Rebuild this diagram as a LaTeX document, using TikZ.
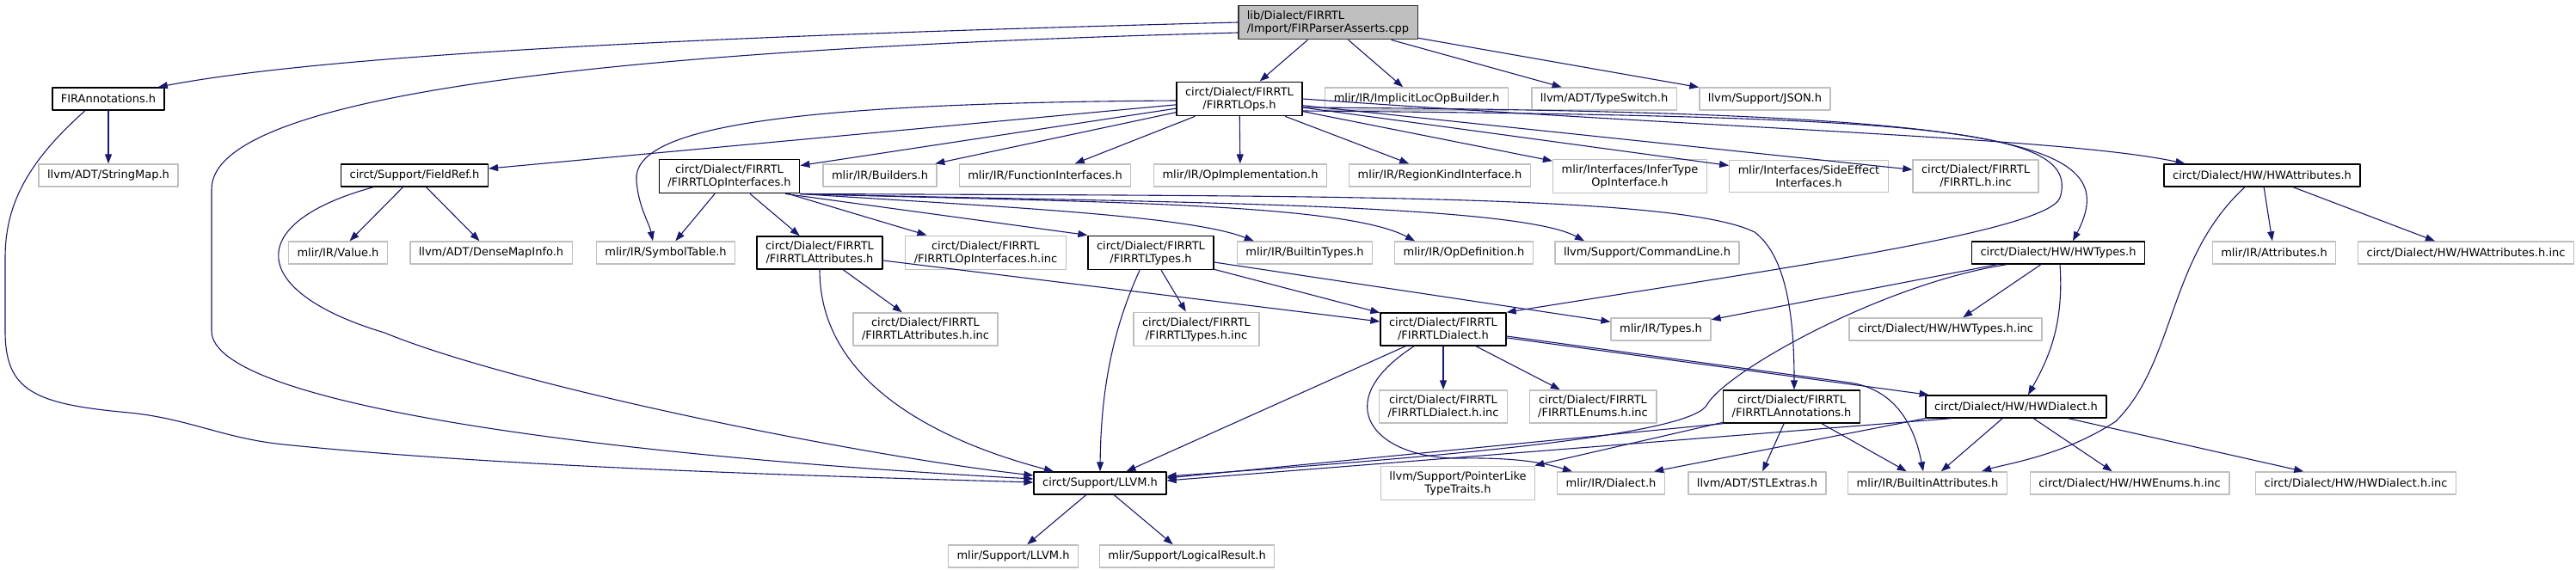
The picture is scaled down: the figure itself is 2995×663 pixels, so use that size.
\documentclass[tikz,border=0pt]{standalone}
\usepackage{fontspec}
\setmainfont{DejaVu Sans}
\usepackage{xcolor}
\usepackage{tikz}
\usetikzlibrary{
  arrows.meta,
  calc
}
\definecolor{IncBlue}{HTML}{191970}
\definecolor{IncGray}{HTML}{BFBFBF}
\definecolor{IncBlack}{HTML}{000000}
\tikzset{
  every picture/.style = {line join=round, line cap=round},
  every node/.style = {font=\fontsize{13}{15}\selectfont, text=IncBlack},
  hdr file/.style = {
    draw=IncBlack,
    fill=white,
    line width=1.4pt,
    inner xsep=10pt,
    inner ysep=6pt,
    minimum height=26pt,
    align=center
  },
  hdr leaf/.style = {hdr file, draw=IncGray},
  hdr root/.style = {hdr file, fill=IncGray, draw=black!80, align=left},
  incl/.style = {-{Triangle[length=11pt,width=8pt]}, draw=IncBlue, line width=1.1pt},
}

\begin{document}
\begin{tikzpicture}[x=1pt,y=-1pt]
  \useasboundingbox (0,0) rectangle (2995,663);

  \node[hdr root] (root) at (1544,26) {lib/Dialect/FIRRTL\\/Import/FIRParserAsserts.cpp};

  \node[hdr file] (firann) at (126,115) {FIRAnnotations.h};
  \node[hdr file] (ops) at (1441,115) {circt/Dialect/FIRRTL\\/FIRRTLOps.h};
  \node[hdr leaf] (implicit) at (1647,115) {mlir/IR/ImplicitLocOpBuilder.h};
  \node[hdr leaf] (typeswitch) at (1865,115) {llvm/ADT/TypeSwitch.h};
  \node[hdr leaf] (json) at (2052,115) {llvm/Support/JSON.h};

  \node[hdr leaf] (stringmap) at (126,204) {llvm/ADT/StringMap.h};
  \node[hdr file] (fieldref) at (482,204) {circt/Support/FieldRef.h};
  \node[hdr file] (opint) at (848,205) {circt/Dialect/FIRRTL\\/FIRRTLOpInterfaces.h};
  \node[hdr leaf] (builders) at (1023,204) {mlir/IR/Builders.h};
  \node[hdr leaf] (funcint) at (1215,204) {mlir/IR/FunctionInterfaces.h};
  \node[hdr leaf] (opimpl) at (1442,204) {mlir/IR/OpImplementation.h};
  \node[hdr leaf] (regionkind) at (1674,204) {mlir/IR/RegionKindInterface.h};
  \node[hdr leaf] (infertype) at (1895,205) {mlir/Interfaces/InferType\\OpInterface.h};
  \node[hdr leaf] (sideeffect) at (2103,205) {mlir/Interfaces/SideEffect\\Interfaces.h};
  \node[hdr leaf] (firinc) at (2297,205) {circt/Dialect/FIRRTL\\/FIRRTL.h.inc};
  \node[hdr file] (hwattr) at (2630,204) {circt/Dialect/HW/HWAttributes.h};

  \node[hdr leaf] (value) at (393,294) {mlir/IR/Value.h};
  \node[hdr leaf] (densemap) at (571,294) {llvm/ADT/DenseMapInfo.h};
  \node[hdr leaf] (symtab) at (774,294) {mlir/IR/SymbolTable.h};
  \node[hdr file] (firattr) at (953,294) {circt/Dialect/FIRRTL\\/FIRRTLAttributes.h};
  \node[hdr leaf] (opintinc) at (1146,294) {circt/Dialect/FIRRTL\\/FIRRTLOpInterfaces.h.inc};
  \node[hdr file] (firtypes) at (1338,294) {circt/Dialect/FIRRTL\\/FIRRTLTypes.h};
  \node[hdr leaf] (btypes) at (1517,294) {mlir/IR/BuiltinTypes.h};
  \node[hdr leaf] (opdef) at (1702,294) {mlir/IR/OpDefinition.h};
  \node[hdr leaf] (cmdline) at (1915,294) {llvm/Support/CommandLine.h};
  \node[hdr file] (hwtypes) at (2393,294) {circt/Dialect/HW/HWTypes.h};
  \node[hdr leaf] (attrs) at (2644,294) {mlir/IR/Attributes.h};
  \node[hdr leaf] (hwattrinc) at (2867,294) {circt/Dialect/HW/HWAttributes.h.inc};

  \node[hdr leaf] (firattrinc) at (1076,383) {circt/Dialect/FIRRTL\\/FIRRTLAttributes.h.inc};
  \node[hdr leaf] (firtypesinc) at (1391,383) {circt/Dialect/FIRRTL\\/FIRRTLTypes.h.inc};
  \node[hdr file] (firdialect) at (1678,383) {circt/Dialect/FIRRTL\\/FIRRTLDialect.h};
  \node[hdr leaf] (types) at (1931,383) {mlir/IR/Types.h};
  \node[hdr leaf] (hwtypesinc) at (2262,383) {circt/Dialect/HW/HWTypes.h.inc};

  \node[hdr leaf] (firdialectinc) at (1678,473) {circt/Dialect/FIRRTL\\/FIRRTLDialect.h.inc};
  \node[hdr leaf] (firenums) at (1852,473) {circt/Dialect/FIRRTL\\/FIRRTLEnums.h.inc};
  \node[hdr file] (firannot) at (2083,473) {circt/Dialect/FIRRTL\\/FIRRTLAnnotations.h};
  \node[hdr file] (hwdialect) at (2344,473) {circt/Dialect/HW/HWDialect.h};

  \node[hdr file] (llvm) at (1279,562) {circt/Support/LLVM.h};
  \node[hdr leaf] (ptrlike) at (1695,562) {llvm/Support/PointerLike\\TypeTraits.h};
  \node[hdr leaf] (dialect) at (1873,562) {mlir/IR/Dialect.h};
  \node[hdr leaf] (stlextras) at (2043,562) {llvm/ADT/STLExtras.h};
  \node[hdr leaf] (battrs) at (2241,562) {mlir/IR/BuiltinAttributes.h};
  \node[hdr leaf] (hwenums) at (2476,562) {circt/Dialect/HW/HWEnums.h.inc};
  \node[hdr leaf] (hwdialectinc) at (2739,562) {circt/Dialect/HW/HWDialect.h.inc};

  \node[hdr leaf] (mlirllvm) at (1178,647) {mlir/Support/LLVM.h};
  \node[hdr leaf] (logres) at (1380,647) {mlir/Support/LogicalResult.h};

  % root
  \draw[incl] (root) -- (ops);
  \draw[incl] (root) -- (implicit);
  \draw[incl] (root) -- (typeswitch);
  \draw[incl] (root) -- (json);
  \draw[incl] (root.west) .. controls (900,40) and (400,60) .. ([xshift=-8pt]firann.north east);
  \draw[incl] ($(root.west)+(0,12)$) .. controls (800,55) and (246,100) .. (246,220) -- (246,385)
    .. controls (246,470) and (700,530) .. ($(llvm.west)+(0,-5)$);

  \draw[incl] (firann) -- (stringmap);
  \draw[incl] ($(firann.south)+(-27,0)$) .. controls (30,190) and (6,240) .. (6,300) -- (6,385)
    .. controls (6,455) and (40,470) .. (150,480) .. controls (220,487) and (260,510) .. (330,517)
    .. controls (600,545) and (1000,555) .. ($(llvm.west)+(0,-1)$);

  % FIRRTLOps.h
  \draw[incl] (ops) -- (fieldref);
  \draw[incl] ($(ops.west)+(0,2)$) .. controls (900,120) and (735,150) .. (740,210)
    .. controls (742,240) and (755,260) .. ([xshift=-15pt]symtab.north);
  \draw[incl] (ops) -- (opint);
  \draw[incl] (ops) -- (builders);
  \draw[incl] (ops) -- (funcint);
  \draw[incl] (ops) -- (opimpl);
  \draw[incl] (ops) -- (regionkind);
  \draw[incl] (ops) -- (infertype);
  \draw[incl] (ops) -- (sideeffect);
  \draw[incl] (ops) -- (firinc);
  \draw[incl] (ops.east) .. controls (2000,150) and (2400,160) .. ([xshift=25pt]hwattr.north west);
  \draw[incl] ($(ops.east)+(0,10)$) .. controls (2350,130) and (2470,165) .. ([xshift=17pt]hwtypes.north);
  \draw[incl] ($(ops.east)+(0,14)$) .. controls (2250,135) and (2420,150) .. (2395,230)
    .. controls (2380,270) and (2050,315) .. (firdialect.north east);

  % FIRRTLOpInterfaces.h
  \draw[incl] (opint) -- (symtab);
  \draw[incl] (opint) -- (firattr);
  \draw[incl] (opint) -- (opintinc);
  \draw[incl] ([xshift=-17pt]opint.south east) -- (firtypes.north west);
  \draw[incl] (opint.south east) .. controls (1150,240) and (1380,250) .. ([xshift=20pt]btypes.north west);
  \draw[incl] (opint.south east) .. controls (1250,235) and (1560,235) .. ([xshift=-57pt]opdef.north);
  \draw[incl] (opint.south east) .. controls (1300,235) and (1760,235) .. ([xshift=-73pt]cmdline.north);
  \draw[incl] (opint.south east) .. controls (1500,228) and (1950,225) .. (2040,270)
    .. controls (2080,300) and (2086,380) .. ([xshift=3pt]firannot.north);

  \draw[incl] (firattr) -- (firattrinc);
  \draw[incl] (firattr.south) .. controls (953,440) and (1080,510) .. ([xshift=-54pt]llvm.north);
  \draw[incl] (firattr) -- (firdialect);

  \draw[incl] (firtypes) -- (firtypesinc);
  \draw[incl] ([xshift=-13pt]firtypes.south) .. controls (1295,380) and (1280,450) .. (llvm.north);
  \draw[incl] (firtypes) -- (firdialect);
  \draw[incl] (firtypes) -- (types);

  % FIRRTLDialect.h
  \draw[incl] (firdialect) -- (firdialectinc);
  \draw[incl] (firdialect) -- (firenums);
  \draw[incl] (firdialect) -- (llvm);
  \draw[incl] ([xshift=-34pt]firdialect.south) .. controls (1540,470) and (1600,535) .. (1700,533)
    .. controls (1770,532) and (1800,540) .. ([xshift=-45pt]dialect.north);
  \draw[incl] (firdialect) -- (hwdialect);
  \draw[incl] ($(firdialect.east)+(0,8)$) -- (2150,445) .. controls (2200,452) and (2225,490) .. ([xshift=-5pt]battrs.north);

  % HW
  \draw[incl] (hwtypes) -- (types);
  \draw[incl] ([xshift=-60pt]hwtypes.south) .. controls (2190,330) and (2010,430) .. (1985,470)
    .. controls (1970,505) and (1700,530) .. ($(llvm.east)+(0,-8)$);
  \draw[incl] (hwtypes) -- (hwtypesinc);
  \draw[incl] ([xshift=2pt]hwtypes.south) .. controls (2400,380) and (2380,420) .. ([xshift=14pt]hwdialect.north);

  \draw[incl] (hwattr) -- (attrs);
  \draw[incl] (hwattr) -- (hwattrinc);
  \draw[incl] ([xshift=-20pt]hwattr.south) .. controls (2520,300) and (2530,420) .. (2460,490)
    .. controls (2400,530) and (2330,540) .. ([xshift=63pt]battrs.north);

  \draw[incl] (firannot.south west) -- ($(llvm.east)+(0,-6)$);
  \draw[incl] (firannot) -- (ptrlike);
  \draw[incl] (firannot) -- (stlextras);
  \draw[incl] (firannot) -- (battrs);

  \draw[incl] ([xshift=30pt]hwdialect.south west) -- ($(llvm.east)+(0,-3)$);
  \draw[incl] (hwdialect.south west) -- ([xshift=-13pt]dialect.north east);
  \draw[incl] (hwdialect) -- (battrs);
  \draw[incl] (hwdialect) -- (hwenums);
  \draw[incl] (hwdialect) -- (hwdialectinc);

  \draw[incl] (llvm) -- (mlirllvm);
  \draw[incl] (llvm) -- (logres);

  \draw[incl] (fieldref) -- (value);
  \draw[incl] (fieldref) -- (densemap);
  \draw[incl] ([xshift=-48pt]fieldref.south) .. controls (280,260) and (290,340) .. (447,387)
    .. controls (600,450) and (1000,530) .. ($(llvm.west)+(0,-9)$);
\end{tikzpicture}
\end{document}
